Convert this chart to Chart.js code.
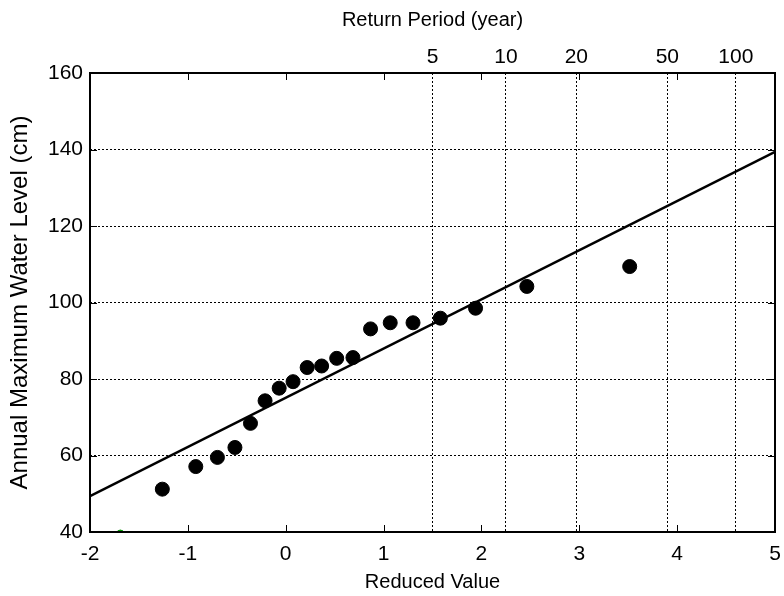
<!DOCTYPE html>
<html>
<head>
<meta charset="utf-8">
<script src="https://cdn.jsdelivr.net/npm/chart.js@4.4.1/dist/chart.umd.min.js"></script>
<style>
  html, body { margin: 0; padding: 0; background: #fff; }
  #wrap { width: 784px; height: 596px; }
</style>
</head>
<body>
<div id="wrap"><canvas id="chartGumbel" width="784" height="596"></canvas></div>
<script>
// Datos
const reducedValue = [-1.261, -0.919, -0.698, -0.519, -0.360, -0.211, -0.067, 0.075, 0.219, 0.367,
                      0.521, 0.687, 0.867, 1.068, 1.301, 1.580, 1.940, 2.464, 3.515];
const waterLevel = [51.2, 57.1, 59.5, 62.1, 68.4, 74.3, 77.6, 79.3, 83.0, 83.4,
                    85.4, 85.6, 93.1, 94.7, 94.7, 95.9, 98.5, 104.2, 109.4];
const fitX = [-2, 5];
const fitY = [49.4, 139.4];
const strayX = [-1.69];
const strayY = [39.6];
const returnPeriods = [5, 10, 20, 50, 100];
const returnPeriodPos = [1.50, 2.25, 2.97, 3.90, 4.60];
const xTicks = [-2, -1, 0, 1, 2, 3, 4, 5];
const yTicks = [40, 60, 80, 100, 120, 140, 160];

Chart.defaults.color = '#000';
Chart.defaults.font.family = '"Liberation Sans", Arial, sans-serif';
Chart.defaults.font.size = 20;

// Marco y marcas hacia dentro (estilo MATLAB)
const marcoPlugin = {
    id: 'marco',
    afterDraw(chart) {
        const { ctx, chartArea: a, scales } = chart;
        ctx.save();
        ctx.strokeStyle = '#000';
        ctx.lineWidth = 1;
        ctx.beginPath();
        xTicks.forEach(v => {
            const px = Math.round(scales.x.getPixelForValue(v)) + 0.5;
            ctx.moveTo(px, a.bottom); ctx.lineTo(px, a.bottom - 7);
            ctx.moveTo(px, a.top); ctx.lineTo(px, a.top + 7);
        });
        yTicks.forEach(v => {
            const py = Math.round(scales.y.getPixelForValue(v)) + 0.5;
            ctx.moveTo(a.left, py); ctx.lineTo(a.left + 7, py);
            ctx.moveTo(a.right, py); ctx.lineTo(a.right - 7, py);
        });
        ctx.stroke();
        ctx.lineWidth = 2;
        ctx.strokeRect(a.left, a.top, a.right - a.left, a.bottom - a.top);
        ctx.restore();
    }
};

const ctx = document.getElementById('chartGumbel').getContext('2d');
const chartGumbel = new Chart(ctx, {
    type: 'scatter',
    data: {
        datasets: [
            {
                label: 'Ajuste',
                type: 'line',
                data: fitX.map((x, i) => ({ x: x, y: fitY[i] })),
                borderColor: '#000',
                borderWidth: 2.5,
                pointRadius: 0,
                fill: false
            },
            {
                label: 'Observado',
                data: reducedValue.map((x, i) => ({ x: x, y: waterLevel[i] })),
                backgroundColor: '#000',
                borderColor: '#000',
                pointRadius: 7,
                pointHoverRadius: 7
            },
            {
                label: 'Otro',
                data: strayX.map((x, i) => ({ x: x, y: strayY[i] })),
                backgroundColor: '#009900',
                borderColor: '#009900',
                pointRadius: 3.5,
                clip: 0
            }
        ]
    },
    options: {
        responsive: false,
        animation: false,
        layout: { padding: { left: 0, right: 9, top: 0, bottom: 0 } },
        plugins: {
            legend: { display: false },
            tooltip: { enabled: false }
        },
        scales: {
            x: {
                type: 'linear',
                position: 'bottom',
                min: -2,
                max: 5,
                // marcas invisibles solo para separar las etiquetas del eje
                grid: { display: true, drawOnChartArea: false, drawTicks: true, tickLength: 10, color: 'rgba(0,0,0,0)' },
                border: { display: false },
                ticks: { stepSize: 1, padding: 0, maxRotation: 0, font: { size: 21 } },
                title: { display: true, text: 'Reduced Value', padding: { top: 0, bottom: 2 } },
                afterFit: scale => { scale.height = 64; }
            },
            x2: {
                type: 'linear',
                position: 'top',
                min: -2,
                max: 5,
                grid: { color: '#000', lineWidth: 1, drawTicks: false },
                border: { display: false, dash: [2, 2] },
                afterBuildTicks: scale => {
                    scale.ticks = returnPeriodPos.map(v => ({ value: v }));
                },
                ticks: {
                    autoSkip: false,
                    maxRotation: 0,
                    padding: 3,
                    font: { size: 21 },
                    callback: (value, index) => returnPeriods[index]
                },
                title: { display: true, text: 'Return Period (year)', padding: { top: 8, bottom: 0 } },
                afterFit: scale => { scale.height = 73; }
            },
            y: {
                type: 'linear',
                position: 'left',
                min: 40,
                max: 160,
                grid: { color: '#000', lineWidth: 1, drawTicks: false },
                border: { display: false, dash: [2, 2] },
                ticks: { stepSize: 20, padding: 7, font: { size: 21 } },
                title: {
                    display: true,
                    text: 'Annual Maximum Water Level (cm)',
                    font: { size: 24 },
                    padding: { top: 6, bottom: 0 }
                },
                afterFit: scale => { scale.width = 90; }
            }
        }
    },
    plugins: [marcoPlugin]
});
</script>
</body>
</html>
